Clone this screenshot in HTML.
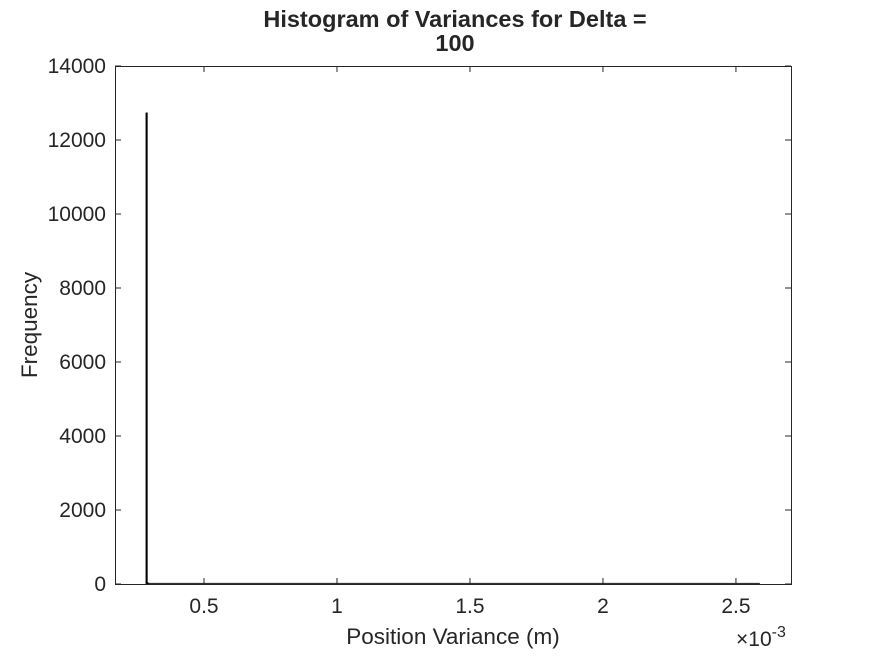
<!DOCTYPE html>
<html><head><meta charset="utf-8"><style>
body{margin:0;background:#fff;font-family:"Liberation Sans",Arial,sans-serif}
svg text{font-family:"Liberation Sans",Arial,sans-serif;fill:#262626}
</style></head><body>
<svg id="c" width="875" height="656">
<rect width="875" height="656" fill="#fff"/>
</svg>
<script>
const binStart = 0.282;
const binEnd = 2.59;
const binCount = 1000;
const binIndices = [0, 1, 2];
const binCounts = [12730, 40, 5];
const yTicks = [0,2000,4000,6000,8000,10000,12000,14000];
const xTicks = [0.5,1,1.5,2,2.5];
const xTickLabels = ["0.5","1","1.5","2","2.5"];

const L=115,R=791,T=66,B=584, xmin=0.1654, xmax=2.707, ymax=14000;
const sx=v=>L+(v-xmin)/(xmax-xmin)*(R-L);
const sy=v=>B-v/ymax*(B-T);
const svg=document.getElementById('c');
const NS='http://www.w3.org/2000/svg';
function mk(t,a,txt){const e=document.createElementNS(NS,t);for(const k in a)e.setAttribute(k,a[k]);if(txt!==undefined)e.textContent=txt;svg.appendChild(e);return e;}

const bw=(binEnd-binStart)/binCount;
let base=mk('line',{x1:sx(binStart),x2:sx(binEnd),y1:B-0.5,y2:B-0.5,stroke:'#333','stroke-width':1.2});


binIndices.forEach((bi,i)=>{
  const x0=sx(binStart+bi*bw), x1=sx(binStart+(bi+1)*bw);
  const r=mk('rect',{x:x0,y:sy(binCounts[i]),width:Math.max(x1-x0,1.2),height:B-sy(binCounts[i]),fill:'#000',stroke:'#000','stroke-width':0.9});
  
  
});

let box=mk('rect',{x:L+0.5,y:T+0.5,width:R-L,height:B-T,fill:'none',stroke:'#262626','stroke-width':1});



yTicks.forEach(v=>{
  const y=sy(v);
  mk('line',{x1:L,x2:L+6,y1:y,y2:y,stroke:'#262626'});
  mk('line',{x1:R-6,x2:R,y1:y,y2:y,stroke:'#262626'});
  const t=mk('text',{x:L-9,y:y+7,'text-anchor':'end','font-size':21},String(v));
  
  
});
xTicks.forEach((v,i)=>{
  const x=sx(v);
  mk('line',{x1:x,x2:x,y1:B,y2:B-6,stroke:'#262626'});
  mk('line',{x1:x,x2:x,y1:T,y2:T+6,stroke:'#262626'});
  const t=mk('text',{x:x,y:B+29,'text-anchor':'middle','font-size':21},xTickLabels[i]);
  
  
});
</script>
<svg width="875" height="656" style="position:absolute;left:0;top:0">
<text x="455" y="27" text-anchor="middle" font-size="23.5" font-weight="bold" fill="#000">Histogram of Variances for Delta =</text>
<text x="455" y="51" text-anchor="middle" font-size="23.5" font-weight="bold" fill="#000">100</text>
<text x="453" y="644" text-anchor="middle" font-size="22.5">Position Variance (m)</text>
<text transform="translate(37,325) rotate(-90)" text-anchor="middle" font-size="22.5">Frequency</text>
<text x="736" y="646" font-size="21">×10<tspan dy="-9" font-size="16">-3</tspan></text>
</svg>
</body></html>
